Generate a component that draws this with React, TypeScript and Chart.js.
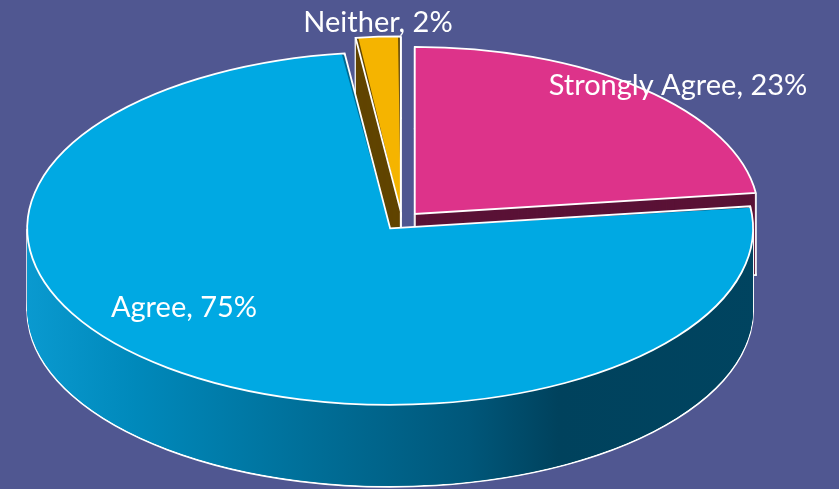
import React, { useEffect, useRef } from 'react';
import { Chart, registerables } from 'chart.js';

Chart.register(...registerables);

// ---- data ----
const categories: string[] = ['Strongly Agree', 'Agree', 'Neither'];
const percentages: number[] = [23, 75, 2];

// ---- styles ----
const topColors = ['#DD338A', '#00A9E3', '#F5B400'];
const wallShades: string[][] = [
  ['#5A1236', '#5A1236'],
  ['#0A9AD0', '#0089BB', '#006D96', '#00577A', '#00425D', '#004460'],
  ['#604500', '#604500'],
];
const agreeStopPos = [0, 0.15, 0.4, 0.6, 0.72, 1];
const BG = '#505791';

// ---- 3D projection layout ----
const SX = 1.718;
const SY = 0.835;
const DEPTH = 82;
const PIE_RADIUS = 200;
const EXPLODE = 45;
const labelOffsets: [number, number][] = [
  [276, -126],
  [-218, 96],
  [-24, -189],
];

type Geo = {
  ox: number; oy: number; r: number; s: number; e: number;
  corners: [number, number][];
};

function sliceGeom(arc: any): Geo {
  const { x, y, startAngle, endAngle, outerRadius } = arc;
  const off = (arc.options.offset || 0) / 4;
  const circ = endAngle - startAngle;
  const fix = 1 - Math.sin(Math.min(Math.PI, circ || 0));
  const r = outerRadius + off * fix;
  const half = (startAngle + endAngle) / 2;
  const ox = x + Math.cos(half) * off;
  const oy = y + Math.sin(half) * off;
  const corners: [number, number][] = [[ox, oy]];
  const angs = [startAngle, endAngle];
  [-Math.PI, 0, Math.PI, 2 * Math.PI].forEach((a) => {
    if (a > startAngle && a < endAngle) angs.push(a);
  });
  angs.forEach((a) => corners.push([ox + r * Math.cos(a), oy + r * Math.sin(a)]));
  return { ox, oy, r, s: startAngle, e: endAngle, corners };
}

function tracePath(ctx: CanvasRenderingContext2D, g: Geo, cx: number, cy: number, d: number) {
  ctx.save();
  ctx.translate(0, d);
  ctx.translate(cx, cy);
  ctx.scale(SX, SY);
  ctx.translate(-cx, -cy);
  ctx.beginPath();
  ctx.moveTo(g.ox, g.oy);
  ctx.arc(g.ox, g.oy, g.r, g.s, g.e);
  ctx.closePath();
  ctx.restore();
}

const pie3d = {
  id: 'pie3d',
  beforeDatasetsDraw(chart: any) {
    const ctx: CanvasRenderingContext2D = chart.ctx;
    const arcs = chart.getDatasetMeta(0).data;
    if (!arcs.length) return;
    const cx = arcs[0].x;
    const cy = arcs[0].y;
    const geos = arcs.map((a: any) => sliceGeom(a));
    const left = cx - (PIE_RADIUS + 12) * SX - 14;
    const right = cx + (PIE_RADIUS + 12) * SX;
    const fills = wallShades.map((shades) => {
      if (shades.length <= 2) return shades[0];
      const gr = ctx.createLinearGradient(left, 0, right, 0);
      shades.forEach((c, k) => gr.addColorStop(agreeStopPos[k], c));
      return gr;
    });
    for (let d = DEPTH; d >= 1; d--) {
      geos.forEach((g: Geo, i: number) => {
        tracePath(ctx, g, cx, cy, d);
        ctx.fillStyle = fills[i] as any;
        ctx.fill();
        if (d === DEPTH) {
          ctx.strokeStyle = '#FFFFFF';
          ctx.lineWidth = 1.8;
          ctx.stroke();
        }
      });
      ctx.fillStyle = '#FFFFFF';
      geos.forEach((g: Geo) => {
        g.corners.forEach(([px, py]) => {
          const X = cx + (px - cx) * SX;
          const Y = cy + (py - cy) * SY + d;
          ctx.fillRect(X - 0.9, Y - 0.6, 1.8, 1.4);
        });
      });
    }
    ctx.save();
    ctx.translate(cx, cy);
    ctx.scale(SX, SY);
    ctx.translate(-cx, -cy);
  },
  afterDatasetsDraw(chart: any) {
    const ctx: CanvasRenderingContext2D = chart.ctx;
    const arcs = chart.getDatasetMeta(0).data;
    if (!arcs.length) return;
    ctx.restore();
    const cx = arcs[0].x;
    const cy = arcs[0].y;
    arcs.forEach((a: any) => {
      const g = sliceGeom(a);
      tracePath(ctx, g, cx, cy, 0);
      ctx.strokeStyle = '#FFFFFF';
      ctx.lineWidth = 1.8;
      ctx.lineJoin = 'miter';
      ctx.stroke();
    });
    ctx.save();
    ctx.fillStyle = '#FFFFFF';
    ctx.font = '29px Lato, "Open Sans", sans-serif';
    ctx.textAlign = 'center';
    ctx.textBaseline = 'alphabetic';
    categories.forEach((c, i) => {
      const [dx, dy] = labelOffsets[i];
      ctx.fillText(`${c}, ${percentages[i]}%`, cx + dx, cy + dy);
    });
    ctx.restore();
  },
};

export default function App() {
  const ref = useRef<HTMLCanvasElement | null>(null);
  useEffect(() => {
    if (!ref.current) return;
    const chart = new Chart(ref.current, {
      type: 'pie',
      data: {
        labels: categories,
        datasets: [
          {
            data: percentages,
            backgroundColor: topColors,
            borderWidth: 0,
            offset: EXPLODE,
            radius: PIE_RADIUS,
            clip: false as any,
          } as any,
        ],
      },
      options: {
        animation: false,
        responsive: true,
        maintainAspectRatio: false,
        devicePixelRatio: 1,
        events: [],
        layout: { padding: { left: 0, top: 0, right: 35, bottom: 47 } },
        plugins: {
          legend: { display: false },
          tooltip: { enabled: false },
          title: { display: false },
        },
      },
      plugins: [pie3d],
    });
    return () => chart.destroy();
  }, []);
  return (
    <div
      style={{
        position: 'fixed',
        left: 0,
        top: 0,
        width: 839,
        height: 489,
        background: BG,
        overflow: 'hidden',
      }}
    >
      <canvas ref={ref} />
    </div>
  );
}
